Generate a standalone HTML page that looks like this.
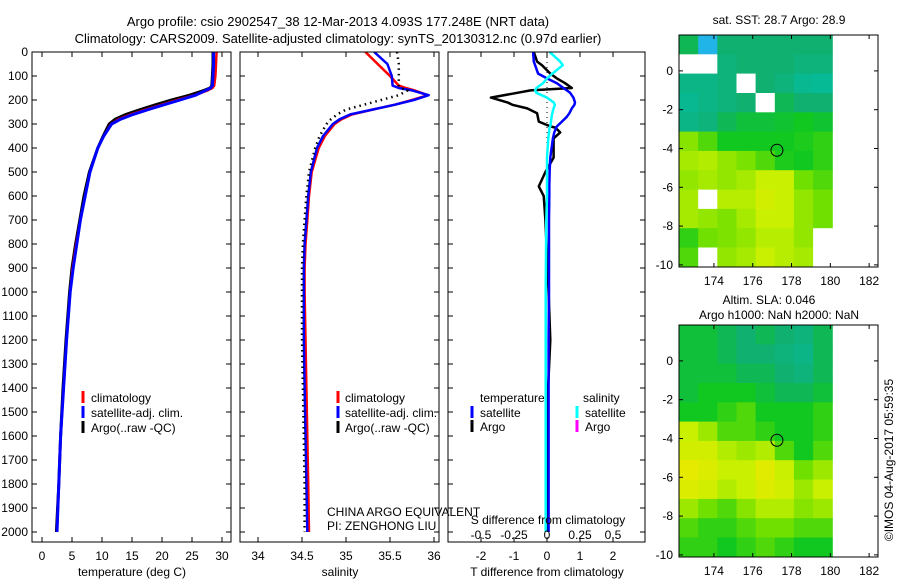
<!DOCTYPE html>
<html><head><meta charset="utf-8"><style>
html,body{margin:0;padding:0;background:#fff;}
svg{display:block;font-family:"Liberation Sans",sans-serif;}
</style></head><body>
<svg id="chart" width="900" height="580" viewBox="0 0 900 580" xmlns="http://www.w3.org/2000/svg">
<text x="338" y="26" font-size="13" text-anchor="middle">Argo profile: csio 2902547_38 12-Mar-2013 4.093S 177.248E (NRT data)</text>
<text x="338" y="43" font-size="13" text-anchor="middle">Climatology: CARS2009. Satellite-adjusted climatology: synTS_20130312.nc (0.97d earlier)</text>
<g id="g"></g>
</svg>
<script>
// ---- data ----
const depths=[0,50,100,140,150,160,180,200,220,240,260,280,300,350,400,500,600,700,800,900,1000,1200,1400,1600,1800,2000];
const tempClim=[29.1,29.0,28.9,28.7,28.4,27.6,25.4,22.6,19.9,17.3,14.8,12.8,11.5,10.3,9.3,8.0,7.2,6.4,5.7,5.1,4.7,4.1,3.6,3.1,2.8,2.5];
const tempSat=[28.6,28.6,28.5,28.4,28.1,27.3,25.6,23.0,20.3,17.7,15.2,13.1,11.6,10.3,9.3,8.0,7.2,6.4,5.8,5.2,4.7,4.1,3.6,3.1,2.8,2.5];
const tempArgo=[28.5,28.5,28.4,28.3,28.0,27.0,24.6,21.6,18.9,16.4,14.0,12.2,11.2,10.2,9.3,7.9,7.0,6.3,5.6,5.0,4.6,4.0,3.5,3.1,2.8,2.4];
const salClim=[35.22,35.36,35.5,35.6,35.68,35.78,35.93,35.75,35.55,35.3,35.07,34.95,34.87,34.76,34.69,34.61,34.58,34.56,34.54,34.53,34.53,34.54,34.55,34.56,34.57,34.58];
const salSat=[35.32,35.47,35.52,35.53,35.6,35.75,35.94,35.77,35.55,35.3,35.05,34.93,34.85,34.74,34.67,34.6,34.57,34.55,34.53,34.52,34.52,34.52,34.53,34.54,34.55,34.56];
const salArgo=[35.58,35.6,35.6,35.6,35.62,35.7,35.6,35.4,35.2,35.0,34.9,34.83,34.78,34.7,34.65,34.58,34.55,34.53,34.51,34.5,34.5,34.5,34.51,34.52,34.53,34.53];
const dDepth=[0,40,55,90,110,130,150,160,170,190,210,220,235,255,270,290,310,315,335,360,440,500,560,600,700,1000,1200,1500,2000];
const dTArgo=[-0.4,-0.3,-0.15,0.1,0.3,0.55,0.75,-0.5,-0.9,-1.7,-1.2,-1.05,-0.6,-0.3,-0.28,-0.25,0.1,0.25,0.4,0.2,0.2,-0.05,-0.25,-0.1,-0.05,0.05,0.1,0,0];
const dTSat=[-0.42,-0.4,-0.36,-0.27,0,0.3,0.5,0.6,0.7,0.8,0.85,0.83,0.75,0.68,0.6,0.45,0.3,0.28,0.22,0.18,0.1,0.08,0.07,0.07,0.06,0.06,0.05,0.05,0.05];
const dSSat=[0.02,0.1,0.12,0.04,0.0,-0.03,-0.08,-0.09,-0.08,0,0.05,0.06,0.05,0.04,0.035,0.03,0.025,0.02,0.015,0.01,0,0,0,0,-0.005,-0.01,-0.01,-0.01,-0.01];
const depthTicks=[0,100,200,300,400,500,600,700,800,900,1000,1100,1200,1300,1400,1500,1600,1700,1800,1900,2000];
const tempTicks=[0,5,10,15,20,25,30];
const salTicks=[34,34.5,35,35.5,36];
const tDiffTicks=[-2,-1,0,1,2];
const sDiffTicks=[-0.5,-0.25,0,0.25,0.5];
const sDiffTickLabels=["-0.5","-0.25","0","0.25","0.5"];
const lonTicks=[174,176,178,180,182];
const latTicks=[0,-2,-4,-6,-8,-10];
const sstGrid=[
[0.35,-0.3,0.3,0.3,0.3,0.3,0.3,0.3],
[-1,-1,0.25,0.3,0.3,0.3,0.25,0.25],
[0.2,0.2,0.25,-1,0.3,0.25,0.15,0.12],
[0.15,0.2,0.25,0.3,-1,0.35,0.3,0.3],
[0.2,0.25,0.35,0.4,0.4,0.42,0.45,0.42],
[0.65,0.55,0.45,0.45,0.45,0.45,0.47,0.5],
[0.72,0.75,0.68,0.62,0.55,0.47,0.45,0.5],
[0.68,0.72,0.68,0.72,0.8,0.8,0.6,0.55],
[0.72,-1,0.76,0.76,0.85,0.8,0.68,0.6],
[0.72,0.68,0.63,0.72,0.8,0.8,0.68,0.6],
[0.5,0.6,0.63,0.68,0.76,0.76,0.68,-1],
[0.55,-1,0.68,0.72,0.8,0.76,0.72,-1]];
const slaGrid=[
[0.4,0.4,0.35,0.3,0.35,0.3,0.25,0.35],
[0.4,0.4,0.35,0.3,0.3,0.25,0.2,0.35],
[0.4,0.4,0.4,0.35,0.35,0.3,0.25,0.35],
[0.4,0.45,0.45,0.45,0.4,0.35,0.35,0.4],
[0.45,0.45,0.5,0.55,0.45,0.45,0.45,0.5],
[0.8,0.7,0.55,0.55,0.5,0.45,0.45,0.5],
[0.85,0.85,0.75,0.7,0.75,0.55,0.45,0.55],
[0.95,0.9,0.8,0.8,0.92,0.8,0.6,0.7],
[0.9,0.85,0.75,0.8,0.9,0.85,0.7,0.8],
[0.7,0.6,0.55,0.65,0.75,0.75,0.65,0.7],
[0.55,0.5,0.5,0.55,0.6,0.6,0.55,0.55],
[0.5,0.5,0.45,0.5,0.55,0.5,0.45,0.45]];
const floatLon=177.248, floatLat=-4.093;

// ---- helpers ----
const NS="http://www.w3.org/2000/svg";
const root=document.getElementById('g');
function mk(tag,attrs,parent,txt){const e=document.createElementNS(NS,tag);for(const k in attrs)e.setAttribute(k,attrs[k]);if(txt!==undefined)e.textContent=txt;(parent||root).appendChild(e);return e;}
const Y0=52,YS=0.24,TOP=52,BOT=542;
const yD=d=>Y0+d*YS;
const P1={l:32,r:231},P2={l:240,r:439},P3={l:448,r:645};
const xT=t=>42+t*6, xS=s=>258+(s-34)*88, xDT=v=>547+v*33, xDS=v=>547+v*132;
function box(p,name){const r=mk('rect',{x:p.l,y:TOP,width:p.r-p.l,height:BOT-TOP,fill:'none',stroke:'#000','stroke-width':1});

}
function clip(id,p){const c=mk('clipPath',{id:id});mk('rect',{x:p.l,y:TOP,width:p.r-p.l,height:BOT-TOP},c);}
function line(xs,ys,fx,color,w,name,p,dash){let d='';for(let i=0;i<ys.length;i++){d+=(i?'L':'M')+fx(xs[i]).toFixed(1)+','+yD(ys[i]).toFixed(1);}
const a={d:d,fill:'none',stroke:color,'stroke-width':w,'clip-path':'url(#'+p+')','stroke-linejoin':'round'};if(dash)a['stroke-dasharray']=dash;
const e=mk('path',a);

}
function depthTicksFor(p,labels){depthTicks.forEach(d=>{const y=yD(d);mk('line',{x1:p.l,x2:p.l+5,y1:y,y2:y,stroke:'#000'});mk('line',{x1:p.r-5,x2:p.r,y1:y,y2:y,stroke:'#000'});
if(labels){const t=mk('text',{x:p.l-4,y:y+4,'font-size':12,'text-anchor':'end'},root,String(d));

}});}
function xTicksFor(p,ticks,fx,labels,ly){ticks.forEach((v,i)=>{const x=fx(v);mk('line',{x1:x,x2:x,y1:BOT,y2:BOT-5,stroke:'#000'});mk('line',{x1:x,x2:x,y1:TOP,y2:TOP+5,stroke:'#000'});
const t=mk('text',{x:x,y:ly,'font-size':12,'text-anchor':'middle'},root,labels?labels[i]:String(v));

});}
function txt(x,y,s,name,size,anchor){const t=mk('text',{x:x,y:y,'font-size':size||12,'text-anchor':anchor||'start'},root,s);

return t;}
function legMark(x,y,color,name){const e=mk('line',{x1:x,x2:x,y1:y-6,y2:y+6,stroke:color,'stroke-width':3});

}

// ---- panel 1: temperature ----
clip('c1',P1);clip('c2',P2);clip('c3',P3);
line(tempArgo,depths,xT,'#000',3,'temp-argo-line','c1');
line(tempClim,depths,xT,'#f00',2.5,'temp-climatology-line','c1');
line(tempSat,depths,xT,'#00f',3,'temp-satellite-line','c1');
box(P1,'temperature-panel');depthTicksFor(P1,true);xTicksFor(P1,tempTicks,xT,null,560);
txt(132,576,'temperature (deg C)','temperature-axis-title',12,'middle');
[['climatology','#f00'],['satellite-adj. clim.','#00f'],['Argo(..raw -QC)','#000']].forEach((l,i)=>{legMark(83,397+i*15,l[1],'temp-legend-marker');txt(91,402+i*15,l[0],'temp-legend-entry');});

// ---- panel 2: salinity ----
line(salClim,depths,xS,'#f00',2.5,'salinity-climatology-line','c2');
line(salSat,depths,xS,'#00f',2.5,'salinity-satellite-line','c2');
line(salArgo,depths,xS,'#000',2.5,'salinity-argo-line','c2','1.5,4');
box(P2,'salinity-panel');depthTicksFor(P2,false);xTicksFor(P2,salTicks,xS,null,560);
txt(340,576,'salinity','salinity-axis-title',12,'middle');
[['climatology','#f00'],['satellite-adj. clim.','#00f'],['Argo(..raw -QC)','#000']].forEach((l,i)=>{legMark(338,397+i*15,l[1],'salinity-legend-marker');txt(345,402+i*15,l[0],'salinity-legend-entry');});
txt(327,516,'CHINA ARGO EQUIVALENT','institution-label');
txt(327,530,'PI: ZENGHONG LIU','pi-label');

// ---- panel 3: differences ----
mk('line',{x1:547,x2:547,y1:TOP,y2:yD(420),stroke:'#000','stroke-dasharray':'1,4'});
line(dTArgo,dDepth,xDT,'#000',2.5,'tdiff-argo-line','c3');
line(dTSat,dDepth,xDT,'#00f',2.5,'tdiff-satellite-line','c3');
line(dSSat,dDepth,xDS,'#0ff',2.5,'sdiff-satellite-line','c3');
box(P3,'difference-panel');depthTicksFor(P3,false);
tDiffTicks.forEach(v=>{const x=xDT(v);mk('line',{x1:x,x2:x,y1:BOT,y2:BOT-5,stroke:'#000'});mk('line',{x1:x,x2:x,y1:TOP,y2:TOP+5,stroke:'#000'});txt(x,560,String(v),'tdiff-tick-label',12,'middle');});
sDiffTicks.forEach((v,i)=>{const x=xDS(v);mk('line',{x1:x,x2:x,y1:BOT,y2:BOT-4,stroke:'#000'});txt(x,539,sDiffTickLabels[i],'sdiff-tick-label',12,'middle');});
txt(548,524,'S difference from climatology','sdiff-axis-title',12,'middle');
txt(547,576,'T difference from climatology','tdiff-axis-title',12,'middle');
txt(480,402,'temperature','diff-legend-temperature-header');txt(583,402,'salinity','diff-legend-salinity-header');
legMark(472,412,'#00f','tdiff-legend-marker');txt(480,417,'satellite','tdiff-legend-satellite');
legMark(472,426,'#000','tdiff-legend-marker');txt(480,431,'Argo','tdiff-legend-argo');
legMark(577,412,'#0ff','sdiff-legend-marker');txt(585,417,'satellite','sdiff-legend-satellite');
legMark(577,426,'#f0f','sdiff-legend-marker');txt(585,431,'Argo','sdiff-legend-argo');

// ---- maps ----
const stops=[[0,[0,192,176]],[0.3,[16,176,112]],[0.45,[16,200,32]],[0.6,[112,224,0]],[0.8,[200,240,0]],[1,[240,232,0]]];
function cmap(v){if(v<-0.5)return '#fff';if(v<0)return '#20b4e8';for(let i=1;i<stops.length;i++){if(v<=stops[i][0]){const a=stops[i-1],b=stops[i],f=(v-a[0])/(b[0]-a[0]);return 'rgb('+a[1].map((c,k)=>Math.round(c+(b[1][k]-c)*f)).join(',')+')';}}return 'rgb(240,232,0)';}
function drawMap(top,grid,name){
 const L=679,R=878,B=top+232,lon0=172.2,lat0=1.85,ppd=19.4;
 const xL=lon=>L+(lon-lon0)*ppd, yL=lat=>top+(lat0-lat)*ppd;
 const nr=grid.length,nc=grid[0].length,dlon=(180.1-lon0)/nc,dlat=(lat0+10.1)/nr;
 grid.forEach((row,r)=>row.forEach((v,c)=>{const x0=xL(lon0+c*dlon),x1=xL(lon0+(c+1)*dlon),y0=yL(lat0-r*dlat),y1=yL(lat0-(r+1)*dlat);
  const e=mk('rect',{x:x0.toFixed(1),y:y0.toFixed(1),width:(x1-x0+0.5).toFixed(1),height:(y1-y0+0.5).toFixed(1),fill:cmap(v)});
  
  }));
 const ci=mk('circle',{cx:xL(floatLon),cy:yL(floatLat),r:6,fill:'none',stroke:'#000'});
 
 
 const bx=mk('rect',{x:L,y:top,width:R-L,height:B-top,fill:'none',stroke:'#000'});
 
 
 lonTicks.forEach(v=>{const x=xL(v);mk('line',{x1:x,x2:x,y1:top,y2:top+4,stroke:'#000'});mk('line',{x1:x,x2:x,y1:B,y2:B-4,stroke:'#000'});txt(x,B+18,String(v),name+'-lon-label',12,'middle');});
 latTicks.forEach(v=>{const y=yL(v);mk('line',{x1:L,x2:L+4,y1:y,y2:y,stroke:'#000'});mk('line',{x1:R-4,x2:R,y1:y,y2:y,stroke:'#000'});txt(L-6,y+4,String(v),name+'-lat-label',12,'end');});
}
drawMap(35,sstGrid,'sst-map');
drawMap(325,slaGrid,'sla-map');
txt(779,24,'sat. SST: 28.7 Argo: 28.9','sst-map-title',12,'middle');
txt(769,304,'Altim. SLA: 0.046','sla-map-title',12,'middle');
txt(779,319,'Argo h1000: NaN h2000: NaN','sla-map-subtitle',12,'middle');
const cr=txt(0,0,'©IMOS 04-Aug-2017 05:59:35','timestamp-label',12,'middle');
cr.setAttribute('transform','translate(893,460) rotate(-90)');
</script>
</body></html>
